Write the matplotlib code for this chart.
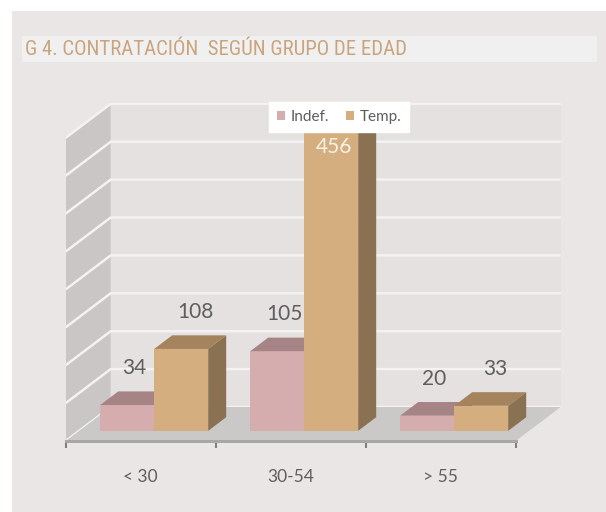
import matplotlib
matplotlib.use('Agg')
import matplotlib.pyplot as plt
from matplotlib import font_manager as fm
from matplotlib.patches import Polygon, Rectangle, Patch
from matplotlib.transforms import IdentityTransform
import numpy as np

# ---------------- data ----------------
categories = ['< 30', '30-54', '> 55']
series_names = ['Indef.', 'Temp.']
indef = [34, 105, 20]
temp = [108, 456, 33]
grid_values = [0, 50, 100, 150, 200, 250, 300, 350, 400]
title = 'G 4. CONTRATACIÓN  SEGÚN GRUPO DE EDAD'

# ---------------- style ----------------
W, H, DPI = 606, 512, 100
names = {f.name for f in fm.fontManager.ttflist}
body_font = ['Lato', 'DejaVu Sans'] if 'Lato' in names else ['DejaVu Sans']
plt.rcParams['font.family'] = body_font


def find_condensed():
    pref = ['Liberation Sans Narrow', 'Arial Narrow', 'Roboto Condensed', 'Open Sans Condensed',
            'Noto Sans Condensed', 'DejaVu Sans Condensed', 'DejaVu Sans']
    found = []
    for f in fm.fontManager.ttflist:
        st = f.stretch
        narrow = ('Narrow' in f.name or 'Condensed' in f.name or 'Condensed' in f.fname
                  or (isinstance(st, str) and 'condensed' in st)
                  or (isinstance(st, (int, float)) and st < 500))
        if narrow and 'Bold' not in f.fname and 'Oblique' not in f.fname and 'Italic' not in f.fname \
                and 'Mono' not in f.fname and 'Serif' not in f.fname:
            found.append(f)
    for p in pref:
        for f in found:
            if f.name == p:
                return fm.FontProperties(fname=f.fname)
    if found:
        return fm.FontProperties(fname=found[0].fname)
    return fm.FontProperties(family=body_font)


title_fp = find_condensed()

front_cols = ['#d5adae', '#d4ae7e']
top_cols = ['#a68385', '#a5835d']
side_cols = ['#8c6f70', '#8a7152']
txt_col = '#5e5e5e'

fig = plt.figure(figsize=(W / DPI, H / DPI), dpi=DPI)
fig.patch.set_facecolor('white')
fig.patches.append(Rectangle((12 / W, 0), 1 - 12 / W, 1 - 11 / H, transform=fig.transFigure,
                             facecolor='#ebe6e6', edgecolor='none', zorder=-10))
fig.patches.append(Rectangle((22 / W, 1 - 62 / H), (597 - 22) / W, 26 / H, transform=fig.transFigure,
                             facecolor='#f1f0f0', edgecolor='none', zorder=-9))
ttl = fig.text(25 / W, 1 - 49.5 / H, title, fontproperties=title_fp, color='#c9a47c',
               va='center', ha='left')
ttl.set_fontsize(15)
renderer = fig.canvas.get_renderer()
tw = ttl.get_window_extent(renderer).width
if tw > 382:
    ttl.set_fontsize(15 * 382 / tw)

# axes: front plane of the 3-D box
x_left, x_right = 65.7, 560.7
y_bot, y_top = 441, 103
px_per_cat = 150.0
px_per_unit = 0.758
ax = fig.add_axes([x_left / W, (H - y_bot) / H, (x_right - x_left) / W, (y_bot - y_top) / H])
ax.set_xlim(0, (x_right - x_left) / px_per_cat)
ax.set_ylim(0, (y_bot - y_top) / px_per_unit)
ax.set_facecolor('none')
for s in ['top', 'right', 'left']:
    ax.spines[s].set_visible(False)
ax.spines['bottom'].set_bounds(0, len(categories))
ax.spines['bottom'].set_color('#a9a7a6')
ax.spines['bottom'].set_linewidth(2.2)
ax.set_yticks([])
ax.set_xticks(range(len(categories) + 1))
ax.set_xticklabels([])
ax.set_xticks([i + 0.5 for i in range(len(categories))], minor=True)
ax.set_xticklabels(categories, minor=True, fontsize=12.5, color=txt_col)
ax.tick_params(axis='x', which='major', length=5, width=1.5, color='#7f7f7f', direction='out')
ax.tick_params(axis='x', which='minor', length=0, pad=20)

DX, DY = 45.0, 34.0  # depth offset in pixels


def P(x, y, d):
    return ax.transData.transform((x, y)) + d * np.array([DX, DY])


def poly(pts, fc, z):
    p = Polygon(np.array(pts), closed=True, transform=IdentityTransform(), facecolor=fc,
                edgecolor='none', linewidth=0, zorder=z)
    ax.add_patch(p)
    return p


n = len(categories)
wall_top = max(grid_values)
# back wall
poly([P(0, 0, 1), P(n, 0, 1), P(n, wall_top, 1), P(0, wall_top, 1)], '#e4e1e0', 1)
# left wall
poly([P(0, 0, 0), P(0, wall_top, 0), P(0, wall_top, 1), P(0, 0, 1)], '#c9c6c5', 1.1)
for g in grid_values:
    a, b, c = P(0, g, 0), P(0, g, 1), P(n, g, 1)
    ax.plot([a[0], b[0], c[0]], [a[1], b[1], c[1]], transform=IdentityTransform(),
            color='#f4f2f2', lw=1.8, zorder=1.2, solid_capstyle='butt')
# floor
poly([P(0, 0, 0), P(n, 0, 0), P(n, 0, 1), P(0, 0, 1)], '#cbc9c8', 1.3)

# bars
bw = 0.36
df, db = 0.3, 0.7
series = [indef, temp]
for c in range(n):
    for s, vals in enumerate(series):
        h = vals[c]
        x0 = c + 0.5 - bw + s * bw
        x1 = x0 + bw
        z = 2 + c + s * 0.3
        poly([P(x0, 0, df), P(x1, 0, df), P(x1, h, df), P(x0, h, df)], front_cols[s], z)
        poly([P(x0, h, df), P(x1, h, df), P(x1, h, db), P(x0, h, db)], top_cols[s], z + 0.01)
        poly([P(x1, 0, df), P(x1, 0, db), P(x1, h, db), P(x1, h, df)], side_cols[s], z + 0.02)

# value labels
ax_top_disp = ax.bbox.y1
for c in range(n):
    for s, vals in enumerate(series):
        h = vals[c]
        xc = c + 0.5 - bw + s * bw + bw / 2
        px, py = P(xc, h, df)
        px += 7 + 7 * s
        py += 37
        col = txt_col
        if py > ax_top_disp - 20:
            py = ax_top_disp - 44
            px -= 11
            col = '#f7f1ea'
        fig.text(px / W, py / H, str(h), ha='center', va='center', fontsize=15,
                 color=col, zorder=20)

handles = [Patch(facecolor=front_cols[i], edgecolor='none', label=series_names[i]) for i in range(2)]
leg = fig.legend(handles=handles, loc='upper left', bbox_to_anchor=(269 / W, 1 - 102.5 / H), ncol=2,
                 frameon=True, fancybox=False, framealpha=1, facecolor='white', edgecolor='white',
                 handlelength=0.55, handleheight=0.55, handletextpad=0.35, columnspacing=1.1,
                 borderpad=0.5, borderaxespad=0, prop={'size': 11})
for t in leg.get_texts():
    t.set_color(txt_col)

fig.savefig('out.png', dpi=DPI)
